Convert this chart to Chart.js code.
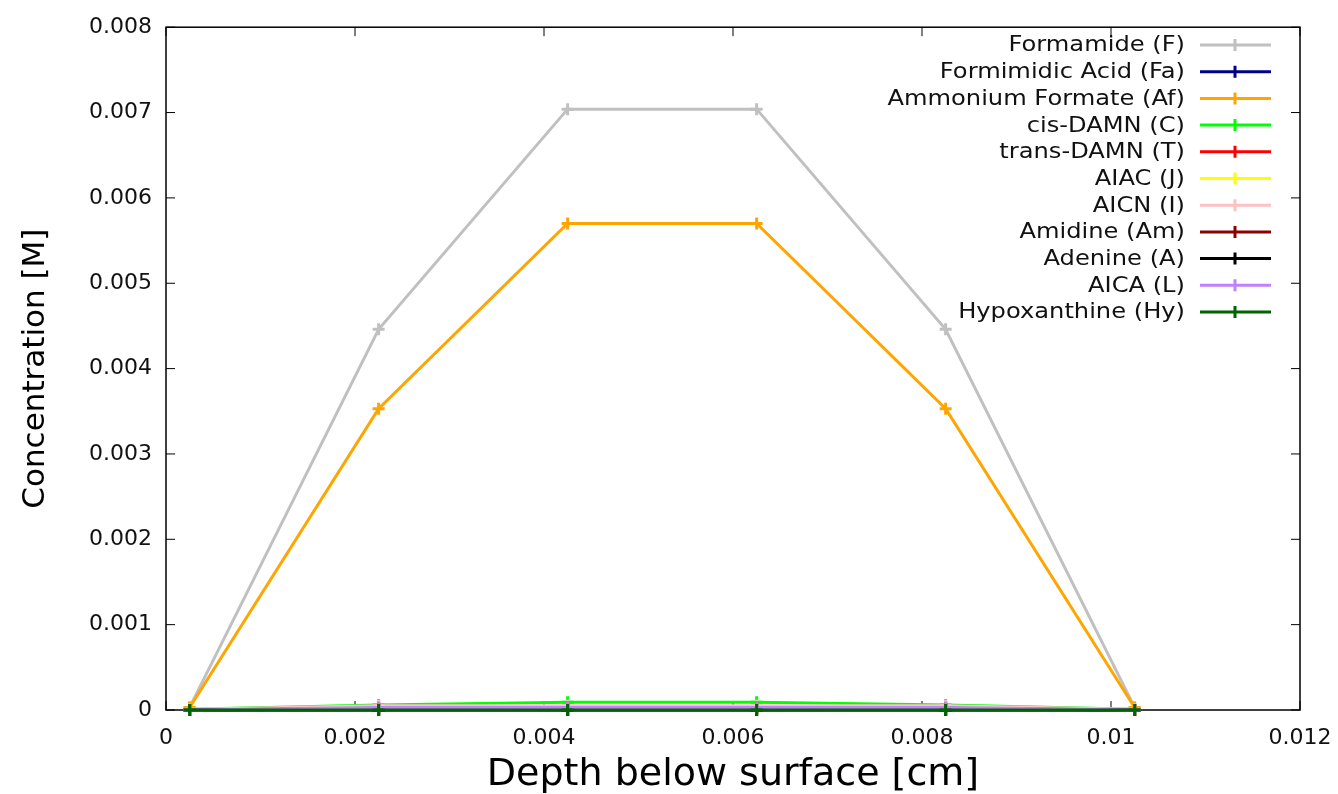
<!DOCTYPE html>
<html>
<head>
<meta charset="utf-8">
<script src="https://cdn.jsdelivr.net/npm/chart.js@4.4.1/dist/chart.umd.min.js"></script>
<style>
  html, body { margin: 0; padding: 0; background: #fff; }
  #wrap { width: 1338px; height: 794px; }
</style>
</head>
<body>
<div id="wrap"><canvas id="myChart" width="1338" height="794"></canvas></div>
<script>
// Tiefe unter der Oberfläche [cm]
const depth = [0.00025, 0.00225, 0.00425, 0.00625, 0.00825, 0.01025];

// Konzentrationen [M]
const formamide       = [0.00003, 0.00446, 0.00704, 0.00704, 0.00446, 0.00003];
const formimidicAcid  = [0, 0, 0, 0, 0, 0];
const ammoniumFormate = [0.00003, 0.00353, 0.00570, 0.00570, 0.00353, 0.00003];
const cisDamn         = [0.00001, 0.00006, 0.00009, 0.00009, 0.00006, 0.00001];
const transDamn       = [0, 0.00001, 0.00002, 0.00002, 0.00001, 0];
const aiac            = [0, 0, 0, 0, 0, 0];
const aicn            = [0.00001, 0.00005, 0.00005, 0.00005, 0.00005, 0.00001];
const amidine         = [0, 0.00002, 0.00003, 0.00003, 0.00002, 0];
const adenine         = [0, 0, 0, 0, 0, 0];
const aica            = [0, 0.00003, 0.00003, 0.00003, 0.00003, 0];
const hypoxanthine    = [0, 0, 0, 0, 0, 0];

const xTicks = [0, 0.002, 0.004, 0.006, 0.008, 0.01, 0.012];
const yTicks = [0, 0.001, 0.002, 0.003, 0.004, 0.005, 0.006, 0.007, 0.008];

const series = [
  ["Formamide (F)", formamide, "#c0c0c0"],
  ["Formimidic Acid (Fa)", formimidicAcid, "#00008b"],
  ["Ammonium Formate (Af)", ammoniumFormate, "#ffa500"],
  ["cis-DAMN (C)", cisDamn, "#00ff00"],
  ["trans-DAMN (T)", transDamn, "#ff0000"],
  ["AIAC (J)", aiac, "#ffff00"],
  ["AICN (I)", aicn, "#ffc0c0"],
  ["Amidine (Am)", amidine, "#8b0000"],
  ["Adenine (A)", adenine, "#000000"],
  ["AICA (L)", aica, "#c080ff"],
  ["Hypoxanthine (Hy)", hypoxanthine, "#006400"]
];

const FONT = "'DejaVu Sans', Verdana, sans-serif";

// Rahmen mit nach innen zeigenden Ticks (auch gespiegelt oben/rechts)
const frame = {
  id: 'frame',
  beforeDatasetsDraw(chart) {
    const {ctx, chartArea: a, scales: {x, y}} = chart;
    ctx.save();
    ctx.strokeStyle = '#000';
    ctx.lineWidth = 1.5;
    ctx.strokeRect(a.left, a.top, a.right - a.left, a.bottom - a.top);
    ctx.lineWidth = 1;
    ctx.beginPath();
    xTicks.forEach(v => {
      const px = x.getPixelForValue(v);
      ctx.moveTo(px, a.bottom); ctx.lineTo(px, a.bottom - 9);
      ctx.moveTo(px, a.top); ctx.lineTo(px, a.top + 9);
    });
    yTicks.forEach(v => {
      const py = y.getPixelForValue(v);
      ctx.moveTo(a.left, py); ctx.lineTo(a.left + 9, py);
      ctx.moveTo(a.right, py); ctx.lineTo(a.right - 9, py);
    });
    ctx.stroke();
    ctx.restore();
  }
};

// Legende im gnuplot-Stil: Text rechtsbündig, Linienmuster rechts
const keyBox = {
  id: 'keyBox',
  afterDraw(chart) {
    const ctx = chart.ctx;
    ctx.save();
    chart.data.datasets.forEach((ds, i) => {
      const yy = 45 + i * 26.7;
      ctx.save();
      ctx.translate(1185, yy);
      ctx.scale(1.15, 1);
      ctx.font = "21px " + FONT;
      ctx.fillStyle = '#111';
      ctx.textAlign = 'right';
      ctx.textBaseline = 'middle';
      ctx.fillText(ds.label, 0, 1);
      ctx.restore();
      ctx.strokeStyle = ds.borderColor;
      ctx.lineWidth = 3;
      ctx.beginPath();
      ctx.moveTo(1200, yy); ctx.lineTo(1271, yy);
      ctx.moveTo(1235, yy - 6); ctx.lineTo(1235, yy + 6);
      ctx.stroke();
    });
    ctx.restore();
  }
};

const ctx = document.getElementById("myChart").getContext("2d");
const myChart = new Chart(ctx, {
  type: 'line',
  data: {
    // spätere Reihen liegen oben (kleinere order = weiter vorne)
    datasets: series.map(([label, vals, color], i) => ({
      label: label,
      data: depth.map((d, k) => ({x: d, y: vals[k]})),
      order: series.length - 1 - i,
      borderColor: color,
      backgroundColor: color,
      borderWidth: 3,
      pointStyle: 'cross',
      pointRadius: 6,
      pointBorderWidth: 3,
      tension: 0,
      fill: false,
      clip: false
    }))
  },
  options: {
    responsive: false,
    animation: false,
    layout: { padding: 0 },
    plugins: {
      legend: { display: false },
      tooltip: { enabled: false }
    },
    scales: {
      x: {
        type: 'linear',
        min: 0,
        max: 0.012,
        afterFit: s => { s.height = 84; s.paddingRight = 38; },
        afterBuildTicks: s => { s.ticks = xTicks.map(v => ({value: v})); },
        grid: { display: false, drawTicks: false },
        border: { display: false },
        ticks: {
          padding: 15,
          color: '#111',
          maxRotation: 0,
          font: { family: FONT, size: 22 },
          callback: v => String(+v.toFixed(4))
        },
        title: {
          display: true,
          text: 'Depth below surface [cm]',
          color: '#000',
          padding: { top: 0, bottom: 0 },
          font: { family: FONT, size: 38, lineHeight: 1 }
        }
      },
      y: {
        min: 0,
        max: 0.008,
        afterFit: s => { s.width = 166; },
        afterBuildTicks: s => { s.ticks = yTicks.map(v => ({value: v})); },
        grid: { display: false, drawTicks: false },
        border: { display: false },
        ticks: {
          padding: 14,
          color: '#111',
          font: { family: FONT, size: 22 },
          callback: v => String(+v.toFixed(4))
        },
        title: {
          display: true,
          text: 'Concentration [M]',
          color: '#000',
          padding: { top: 20, bottom: 0 },
          font: { family: FONT, size: 31, lineHeight: 1 }
        }
      }
    }
  },
  plugins: [frame, keyBox]
});
</script>
</body>
</html>
